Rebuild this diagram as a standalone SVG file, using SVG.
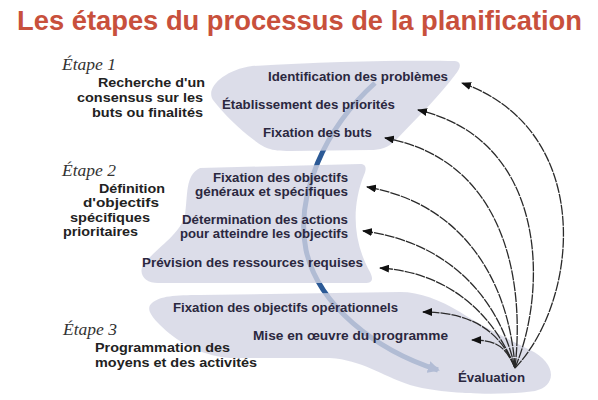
<svg xmlns="http://www.w3.org/2000/svg" width="598" height="400" viewBox="0 0 598 400">
<defs>
<style>
.title{font-family:"Liberation Sans",Arial,sans-serif;font-weight:bold;font-size:27px;fill:#c8503c}
.etape{font-family:"Liberation Serif","Times New Roman",serif;font-style:italic;font-size:17.5px;fill:#333}
.desc{font-family:"Liberation Sans",Arial,sans-serif;font-weight:bold;font-size:13px;fill:#222}
.item{font-family:"Liberation Sans",Arial,sans-serif;font-weight:bold;font-size:12.5px;fill:#2b2840}
.blob{fill:#d3d4e4;fill-opacity:0.8}
.fb{fill:none;stroke:#2a2a2a;stroke-width:1.3;stroke-dasharray:10 1;marker-end:url(#ah)}
</style>
<marker id="ah" markerUnits="userSpaceOnUse" markerWidth="10" markerHeight="8" refX="9" refY="4" orient="auto">
<path d="M0,0 L10,4 L0,8 Z" fill="#111"/>
</marker>
<marker id="bh" markerUnits="userSpaceOnUse" markerWidth="14" markerHeight="12" refX="10" refY="6" orient="auto">
<path d="M0,0 L12,6 L0,12 Z" fill="#2f5d9a"/>
</marker>
</defs>
<rect width="598" height="400" fill="#ffffff"/>
<text class="title" x="17" y="30" textLength="565" lengthAdjust="spacingAndGlyphs">Les étapes du processus de la planification</text>

<g id="cycle-arc">
<path d="M375,83 C325,128 295,195 306,250 C318,305 375,350 438,370" fill="none" stroke="#2c5a96" stroke-width="5" marker-end="url(#bh)"/>
</g>

<g id="etape1">
<path class="blob" d="M252,66 C320,62 400,60 455,61 C462,62 461,68 455,75 C440,95 420,115 396,140 C388,148 380,150 370,150 L290,151 C270,151 264,148 254,140 C238,128 224,114 213,100 C205,88 224,70 252,66 Z"/>
<text class="etape" x="62" y="70">Étape 1</text>
<text class="desc" x="98" y="87" textLength="107" lengthAdjust="spacingAndGlyphs">Recherche d'un</text>
<text class="desc" x="77" y="102" textLength="126" lengthAdjust="spacingAndGlyphs">consensus sur les</text>
<text class="desc" x="92" y="117" textLength="111" lengthAdjust="spacingAndGlyphs">buts ou finalités</text>
<text class="item" x="268" y="81" textLength="180" lengthAdjust="spacingAndGlyphs">Identification des problèmes</text>
<text class="item" x="222" y="109" textLength="173" lengthAdjust="spacingAndGlyphs">Établissement des priorités</text>
<text class="item" x="263" y="137" textLength="109" lengthAdjust="spacingAndGlyphs">Fixation des buts</text>
</g>

<g id="etape2">
<path class="blob" d="M200,168 L360,164 C366,164 367,168 364,175 C352,205 352,240 370,272 C374,280 372,283 365,283 L158,283 C146,283 138,275 143,265 C158,246 180,235 185,215 C188,195 185,175 200,168 Z"/>
<text class="etape" x="62" y="176">Étape 2</text>
<text class="desc" x="99" y="192.5" textLength="66" lengthAdjust="spacingAndGlyphs">Définition</text>
<text class="desc" x="83" y="207" textLength="76" lengthAdjust="spacingAndGlyphs">d'objectifs</text>
<text class="desc" x="70" y="221.5" textLength="80" lengthAdjust="spacingAndGlyphs">spécifiques</text>
<text class="desc" x="63" y="236" textLength="75" lengthAdjust="spacingAndGlyphs">prioritaires</text>
<text class="item" x="213" y="181.5" textLength="135" lengthAdjust="spacingAndGlyphs">Fixation des objectifs</text>
<text class="item" x="195" y="195.5" textLength="153" lengthAdjust="spacingAndGlyphs">généraux et spécifiques</text>
<text class="item" x="182" y="223.5" textLength="166" lengthAdjust="spacingAndGlyphs">Détermination des actions</text>
<text class="item" x="180" y="237.5" textLength="168" lengthAdjust="spacingAndGlyphs">pour atteindre les objectifs</text>
<text class="item" x="142" y="267" textLength="221" lengthAdjust="spacingAndGlyphs">Prévision des ressources requises</text>
</g>

<g id="etape3">
<path class="blob" d="M152,303 C160,296 175,295 200,295 L400,292 C420,292 440,300 460,312 C480,325 510,340 530,350 C556,362 558,386 535,391 C500,396 440,394 410,385 C380,375 362,360 330,358 L230,358 C200,356 175,340 160,325 C150,315 146,308 152,303 Z"/>
<text class="etape" x="63" y="335">Étape 3</text>
<text class="desc" x="95" y="352" textLength="135" lengthAdjust="spacingAndGlyphs">Programmation des</text>
<text class="desc" x="95" y="367" textLength="162" lengthAdjust="spacingAndGlyphs">moyens et des activités</text>
<text class="item" x="173" y="312" textLength="225" lengthAdjust="spacingAndGlyphs">Fixation des objectifs opérationnels</text>
<text class="item" x="253" y="340" textLength="195" lengthAdjust="spacingAndGlyphs">Mise en œuvre du programme</text>
</g>

<g id="evaluation">
<text class="item" x="458" y="382" textLength="67" lengthAdjust="spacingAndGlyphs">Évaluation</text>
</g>

<g id="connectors">
<path class="fb" d="M515,368 C580,300 595,130 462,83"/>
<path class="fb" d="M515,368 C548,290 548,140 418,110"/>
<path class="fb" d="M515,368 C525,280 505,160 385,138"/>
<path class="fb" d="M515,368 C510,290 470,205 367,187"/>
<path class="fb" d="M515,368 C500,300 450,242 363,231"/>
<path class="fb" d="M515,368 C492,310 445,272 380,268"/>
<path class="fb" d="M515,368 C500,330 470,312 423,312"/>
<path class="fb" d="M515,368 C505,345 495,340 472,340"/>
</g>
</svg>
